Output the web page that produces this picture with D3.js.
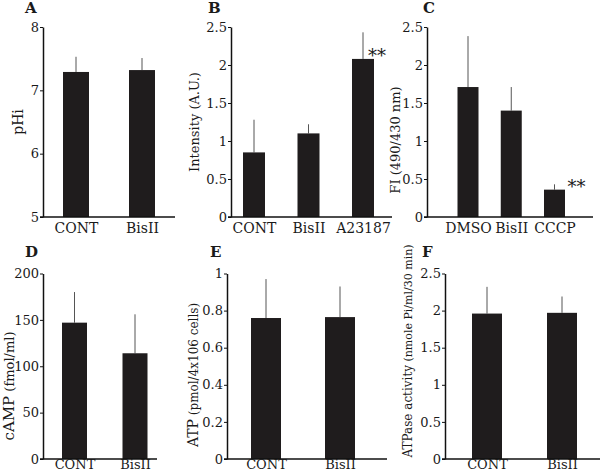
<!DOCTYPE html>
<html>
<head>
<meta charset="utf-8">
<script src="https://cdn.jsdelivr.net/npm/d3@7"></script>
<style>
  html, body { margin: 0; padding: 0; background: #fff; }
  svg { display: block; }
  text { font-family: "DejaVu Serif", "Liberation Serif", serif; fill: #1a1a1a; }
</style>
</head>
<body>
<svg id="chart" width="600" height="473"></svg>
<script>
// ---- data ----
const catsA = ["CONT", "BisII"];
const valsA = [7.29, 7.32];
const sdA   = [0.24, 0.19];
const ticksA = [5, 6, 7, 8];

const catsB = ["CONT", "BisII", "A23187"];
const valsB = [0.85, 1.10, 2.08];
const sdB   = [0.43, 0.12, 0.35];
const sigB  = ["", "", "**"];
const ticksB = [0, 0.5, 1, 1.5, 2, 2.5];

const catsC = ["DMSO", "BisII", "CCCP"];
const valsC = [1.71, 1.40, 0.36];
const sdC   = [0.67, 0.31, 0.07];
const sigC  = ["", "", "**"];
const ticksC = [0, 0.5, 1, 1.5, 2, 2.5];

const catsD = ["CONT", "BisII"];
const valsD = [147, 114];
const sdD   = [33, 42];
const ticksD = [0, 50, 100, 150, 200];

const catsE = ["CONT", "BisII"];
const valsE = [0.76, 0.765];
const sdE   = [0.21, 0.165];
const ticksE = [0, 0.2, 0.4, 0.6, 0.8, 1];

const catsF = ["CONT", "BisII"];
const valsF = [1.96, 1.97];
const sdF   = [0.36, 0.22];
const ticksF = [0, 0.5, 1, 1.5, 2, 2.5];

// ---- layout ----
const svg = d3.select("#chart");

const panels = [
  { label: "A", cats: catsA, vals: valsA, sd: sdA, ticks: ticksA, domain: [5, 8],
    ylab: [["pHi", 14]], ylx: 23, ylc: 122,
    ax: 43, ax1: 175, top: 27, bot: 217, px: [76, 142], bw: 26, lx: 25, ly: 13, xpad: 6, xfs: 14 },
  { label: "B", cats: catsB, vals: valsB, sd: sdB, sig: sigB, sigDx: 5, ticks: ticksB, domain: [0, 2.5],
    ylab: [["Intensity", 13], [" (A.U.)", 13]], ylx: 199, ylc: 122,
    ax: 231, ax1: 392, top: 27, bot: 217, px: [254, 363], bw: 22, lx: 208, ly: 13, xpad: 6, xfs: 14 },
  { label: "C", cats: catsC, vals: valsC, sd: sdC, sig: sigC, sigDx: 13, ticks: ticksC, domain: [0, 2.5],
    ylab: [["FI", 13], [" (490/430 nm)", 13]], ylx: 400, ylc: 140,
    ax: 427, ax1: 593, top: 27, bot: 217, px: [468, 554.5], bw: 21, lx: 423, ly: 13, xpad: 6, xfs: 14 },
  { label: "D", cats: catsD, vals: valsD, sd: sdD, ticks: ticksD, domain: [0, 200],
    ylab: [["cAMP", 15], [" (fmol/ml)", 13]], ylx: 14, ylc: 386,
    ax: 43, ax1: 157, top: 273.5, bot: 459, px: [74.5, 135], bw: 25, lx: 25, ly: 257, xpad: 1, xfs: 13 },
  { label: "E", cats: catsE, vals: valsE, sd: sdE, ticks: ticksE, domain: [0, 1],
    ylab: [["ATP", 14], [" (pmol/4x106 cells)", 12]], ylx: 198, ylc: 375,
    ax: 227, ax1: 387, top: 273.5, bot: 459, px: [266, 340], bw: 30, lx: 210, ly: 257, xpad: 1, xfs: 13 },
  { label: "F", cats: catsF, vals: valsF, sd: sdF, ticks: ticksF, domain: [0, 2.5],
    ylab: [["ATPase activity", 12], [" (nmole Pi/ml/30 min)", 11]], ylx: 412, ylc: 351,
    ax: 445, ax1: 600, top: 273.5, bot: 459, px: [487, 562], bw: 30, lx: 422, ly: 257, xpad: 1, xfs: 13 }
];

panels.forEach(p => {
  const g = svg.append("g");
  const y = d3.scaleLinear().domain(p.domain).range([p.bot, p.top]);
  const x = d3.scalePoint().domain(p.cats).range(p.px);

  // error bars (start at bar top)
  g.selectAll("line.err").data(p.cats).join("line")
    .attr("class", "err")
    .attr("x1", d => x(d)).attr("x2", d => x(d))
    .attr("y1", (d, i) => y(p.vals[i]))
    .attr("y2", (d, i) => y(p.vals[i] + p.sd[i]))
    .attr("stroke", "#555").attr("stroke-width", 1);

  // bars
  g.selectAll("rect.bar").data(p.cats).join("rect")
    .attr("class", "bar")
    .attr("x", d => x(d) - p.bw / 2)
    .attr("width", p.bw)
    .attr("y", (d, i) => y(p.vals[i]))
    .attr("height", (d, i) => y(p.domain[0]) - y(p.vals[i]))
    .attr("fill", "#1f1c1d");

  // significance
  if (p.sig) {
    g.selectAll("text.sig").data(p.cats).join("text")
      .attr("class", "sig")
      .attr("x", d => x(d) + p.sigDx)
      .attr("y", (d, i) => y(p.vals[i]) + 3)
      .attr("font-size", 18)
      .text((d, i) => p.sig[i]);
  }

  // y axis
  const yAxis = d3.axisLeft(y).tickValues(p.ticks).tickSize(3).tickSizeOuter(0)
    .tickPadding(1).tickFormat(d => String(d));
  const ga = g.append("g").attr("transform", `translate(${p.ax},0)`).call(yAxis);
  ga.select(".domain").attr("stroke", "#111").attr("stroke-width", 1.5);
  ga.selectAll(".tick line").attr("stroke", "#111");
  ga.selectAll(".tick text").attr("font-size", 13).attr("font-family", "DejaVu Serif").attr("fill", "#1a1a1a");

  // x axis
  g.append("line")
    .attr("x1", p.ax - 3).attr("x2", p.ax1)
    .attr("y1", p.bot).attr("y2", p.bot)
    .attr("stroke", "#111").attr("stroke-width", 1.5);
  const xAxis = d3.axisBottom(x).tickSize(0).tickPadding(p.xpad);
  const gx = g.append("g").attr("transform", `translate(0,${p.bot})`).call(xAxis);
  gx.select(".domain").remove();
  gx.selectAll(".tick text").attr("font-size", p.xfs).attr("font-family", "DejaVu Serif").attr("fill", "#1a1a1a");

  // y label
  const t = g.append("text")
    .attr("transform", `translate(${p.ylx},${p.ylc}) rotate(-90)`)
    .attr("text-anchor", "middle");
  p.ylab.forEach(([s, fs]) => {
    t.append("tspan").attr("font-size", fs).text(s);
  });

  // panel label
  g.append("text")
    .attr("x", p.lx).attr("y", p.ly)
    .attr("font-size", 15).attr("font-weight", "bold")
    .text(p.label);
});
</script>
</body>
</html>
